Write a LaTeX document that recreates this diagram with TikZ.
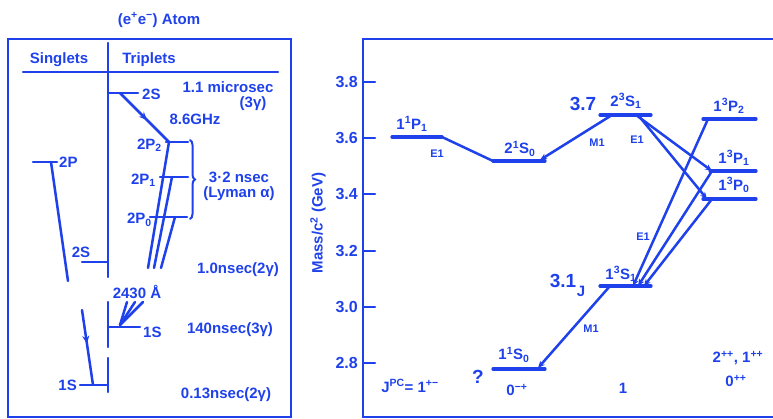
\documentclass[tikz,border=0pt]{standalone}
\usepackage{fontspec}
\setmainfont{Liberation Sans}
\usetikzlibrary{arrows.meta,decorations.markings,decorations.pathreplacing}
\definecolor{ink}{RGB}{30,65,235}
\begin{document}
\begin{tikzpicture}[x=1pt,y=-1pt,line cap=round,
  ln/.style={draw=ink,line width=2.5pt},
  lvl/.style={draw=ink,line width=3.2pt},
  lbl/.style={text=ink,font=\bfseries\fontsize{15}{15}\selectfont,inner sep=0pt},
  tick/.style={text=ink,font=\bfseries\fontsize{16}{16}\selectfont,inner sep=0pt},
  big/.style={text=ink,font=\bfseries\fontsize{19}{19}\selectfont,inner sep=0pt},
  sml/.style={text=ink,font=\bfseries\fontsize{11}{11}\selectfont,inner sep=0pt},
  midarrow/.style={postaction={decorate},decoration={markings,mark=at position #1 with {\arrow[ink]{Stealth[length=8pt,width=7pt]}}}},
  endarrow/.style={-{Stealth[length=7pt,width=6pt]}},
]
\useasboundingbox (0,0) rectangle (773,419);
% ---------- left panel ----------
\node[lbl] (title) at (159,20) {(e\textsuperscript{+}e\textsuperscript{−}) Atom};
\draw[ln] (8,39) rectangle (291,417);
\node[lbl] (sing) at (59,60) {Singlets};
\node[lbl] (trip) at (149,60) {Triplets};
\coordinate (hl) at (23,72); \coordinate (hr) at (278,72);
\draw[ln] (hl) -- (hr);
\coordinate (ax1) at (108,43); \coordinate (ax2) at (108,277);
\coordinate (ax3) at (108,302); \coordinate (ax4) at (108,347);
\coordinate (ax5) at (108,358); \coordinate (ax6) at (108,392);
\draw[ln] (ax1) -- (ax2); \draw[ln] (ax3) -- (ax4); \draw[ln] (ax5) -- (ax6);
% triplet 2S
\coordinate (t2Sa) at (108,93); \coordinate (t2Sb) at (138,93);
\draw[ln] (t2Sa) -- (t2Sb);
\node[lbl,anchor=west] (t2S) at (142,94) {2S};
\node[lbl] (t2Slife) at (228,87) {1.1 microsec};
\node[lbl] (t2Slife2) at (253,104) {(3γ)};
% 2P levels
\coordinate (p2a) at (166,142); \coordinate (p2b) at (188,142);
\coordinate (p1a) at (160,177); \coordinate (p1b) at (188,177);
\coordinate (p0a) at (150,217); \coordinate (p0b) at (187,217);
\draw[ln] (p2a) -- (p2b); \draw[ln] (p1a) -- (p1b); \draw[ln] (p0a) -- (p0b);
\node[lbl,anchor=east] (p2) at (162,145) {2P\textsubscript{2}};
\node[lbl,anchor=east] (p1) at (156,180) {2P\textsubscript{1}};
\node[lbl,anchor=east] (p0) at (152,220) {2P\textsubscript{0}};
\coordinate (hfs) at (169,142);
\draw[ln,midarrow=0.55] (120,93) -- (hfs);
\node[lbl] (ghz) at (195,119) {8.6GHz};
\draw[ink,line width=2pt,decorate,decoration={brace,amplitude=5pt}] (190,140) -- (190,219);
\node[lbl] (nsec) at (239,177) {3·2 nsec};
\node[lbl] (lym) at (239,194) {(Lyman α)};
\coordinate (d2) at (148,268); \coordinate (d1) at (154,268); \coordinate (d0) at (161,268);
\draw[ln] (hfs) -- (d2);
\draw[ln] (172,177) -- (d1);
\draw[ln] (175,217) -- (d0);
\node[lbl] (ang) at (137,292) {2430 Å};
\node[lbl] (t1life) at (238,270) {1.0nsec(2γ)};
% triplet 1S
\coordinate (t1Sa) at (108,327); \coordinate (t1Sb) at (140,327);
\draw[ln] (t1Sa) -- (t1Sb);
\node[lbl,anchor=west] (t1S) at (143,332) {1S};
\coordinate (fan) at (120,325);
\draw[ln] (fan) -- (127,302); \draw[ln] (fan) -- (135,302); \draw[ln] (fan) -- (143,302);
\node[lbl] (t1Slife) at (230,330) {140nsec(3γ)};
\node[lbl] (s1Slife) at (226,395) {0.13nsec(2γ)};
% singlets
\coordinate (s2Pa) at (33,162); \coordinate (s2Pb) at (57,162);
\draw[ln] (s2Pa) -- (s2Pb);
\node[lbl,anchor=west] (s2P) at (59,162) {2P};
\draw[ln] (51,162) -- (68,281);
\coordinate (s2Sa) at (82,262); \coordinate (s2Sb) at (108,262);
\draw[ln] (s2Sa) -- (s2Sb);
\node[lbl] (s2S) at (81,252) {2S};
\coordinate (s1Sa) at (80,385); \coordinate (s1Sb) at (108,385);
\draw[ln,midarrow=0.45] (82,310) -- (93,385);
\draw[ln] (s1Sa) -- (s1Sb);
\node[lbl,anchor=east] (s1S) at (77,385) {1S};
% ---------- right panel ----------
\draw[ln] (773,39) -- (363,39) -- (363,417) -- (773,417);
\foreach \v/\yy in {3.8/82,3.6/138,3.4/194,3.2/251,3.0/307,2.8/363}{
  \draw[ln] (363,\yy) -- (375,\yy);
  \node[tick,anchor=east] at (358,\yy) {\v};
}
\node[lbl,rotate=90] (axl) at (318,223) {Mass/c\textsuperscript{2} (GeV)};
% levels
\coordinate (P11a) at (392,137); \coordinate (P11b) at (442,137);
\coordinate (S21a) at (493,161); \coordinate (S21b) at (545,161);
\coordinate (S23a) at (600,115); \coordinate (S23b) at (651,115);
\coordinate (P32a) at (703,119); \coordinate (P32b) at (756,119);
\coordinate (P31a) at (710,171); \coordinate (P31b) at (756,171);
\coordinate (P30a) at (703,199); \coordinate (P30b) at (756,199);
\coordinate (S13a) at (600,286); \coordinate (S13b) at (651,286);
\coordinate (S11a) at (493,369); \coordinate (S11b) at (545,369);
\foreach \a/\b in {P11a/P11b,S21a/S21b,S23a/S23b,P32a/P32b,P31a/P31b,P30a/P30b,S13a/S13b,S11a/S11b}
  \draw[lvl] (\a) -- (\b);
\node[lbl] (lP11) at (412,124) {1\textsuperscript{1}P\textsubscript{1}};
\node[lbl] (lS21) at (520,149) {2\textsuperscript{1}S\textsubscript{0}};
\node[lbl] (lS23) at (626,101) {2\textsuperscript{3}S\textsubscript{1}};
\node[big] (v37) at (583,104) {3.7};
\node[lbl] (lP32) at (729,106) {1\textsuperscript{3}P\textsubscript{2}};
\node[lbl] (lP31) at (734,158) {1\textsuperscript{3}P\textsubscript{1}};
\node[lbl] (lP30) at (734,185) {1\textsuperscript{3}P\textsubscript{0}};
\node[lbl] (lS13) at (621,274) {1\textsuperscript{3}S\textsubscript{1}};
\node[big] (v31) at (563,281) {3.1};
\node[lbl] (vJ) at (581,291) {J};
\node[lbl] (lS11) at (514,355) {1\textsuperscript{1}S\textsubscript{0}};
\node[lbl] (jS11) at (517,390) {0\textsuperscript{−+}};
\node[big] (q) at (478,377) {?};
% transitions
\draw[ln] (P11b) -- (S21a);
\node[sml] (e1a) at (437,154) {E1};
\draw[ln,endarrow] (612,115) -- (540,160);
\node[sml] (m1a) at (597,143) {M1};
\node[sml] (e1b) at (637,140) {E1};
\draw[ln,endarrow] (636,115) -- (712,171);
\draw[ln,endarrow] (638,115) -- (707,199);
\draw[ln,endarrow] (708,119) -- (633,286);
\draw[ln,endarrow] (712,171) -- (638,286);
\draw[ln,endarrow] (712,199) -- (644,286);
\node[sml] (e1c) at (643,237) {E1};
\draw[ln,endarrow] (610,286) -- (538,368);
\node[sml] (m1b) at (591,329) {M1};
% quantum numbers
\node[lbl] (jpc) at (410,386) {J\textsuperscript{PC}= 1\textsuperscript{+−}};
\node[lbl] (j1) at (623,388) {1};
\node[lbl] (j2) at (738,358) {2\textsuperscript{++}, 1\textsuperscript{++}};
\node[lbl] (j0) at (736,381) {0\textsuperscript{++}};
\end{tikzpicture}
\end{document}
